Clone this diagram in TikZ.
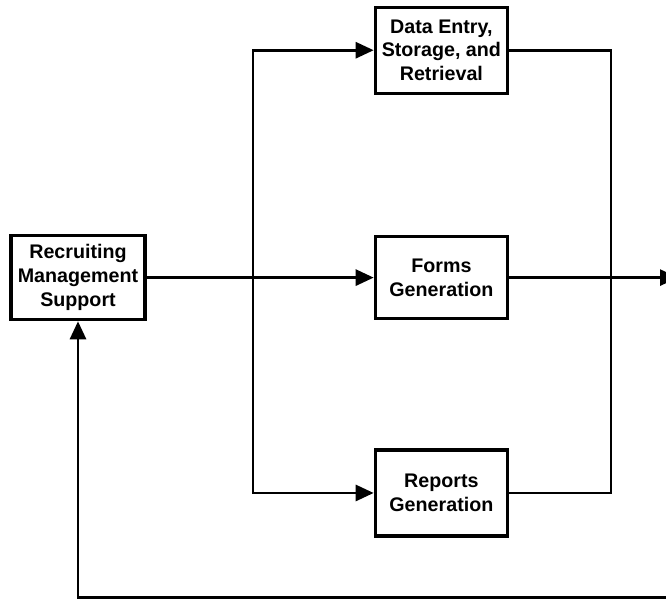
\documentclass[tikz,border=0pt]{standalone}
\usepackage{fontspec}
\setmainfont{Liberation Sans}
\usetikzlibrary{arrows.meta,positioning}

\begin{document}
\begin{tikzpicture}[>={Triangle[length=0.45cm,width=0.4cm]},line width=2pt,
  block/.style={draw,line width=2.4pt,minimum width=3.3cm,minimum height=2.1cm,
    align=center,font=\fontsize{14}{17}\selectfont\bfseries}]
 \useasboundingbox (0,0) rectangle (16.65,-15);

 \node[block,minimum width=3.35cm] (rms) at (1.95,-6.94) {Recruiting\\Management\\Support};
 \node[block,minimum height=2.05cm] (forms) [right=5.675cm of rms] {Forms\\Generation};
 \node[block,minimum height=2.15cm] (data) [above=3.5cm of forms] {Data Entry,\\Storage, and\\Retrieval};
 \node[block,minimum height=2.15cm] (reports) [below=3.2cm of forms] {Reports\\Generation};

 \coordinate (lbus) at (6.325,-6.94);
 \coordinate (rbus) at (15.275,-6.94);
 \coordinate (out) at (16.95,-6.94);
 \coordinate (fb) at (16.8,-14.93);

 %left side
 \draw[->] (rms) -- (forms);
 \draw[->] (lbus) |- (data);
 \draw[->] (lbus) |- (reports);
 %right side
 \draw (data) -| (rbus);
 \draw (reports) -| (rbus);
 \draw[->] (forms) -- (out);
 %feedback
 \draw[->] (fb) -| (rms);
\end{tikzpicture}
\end{document}
